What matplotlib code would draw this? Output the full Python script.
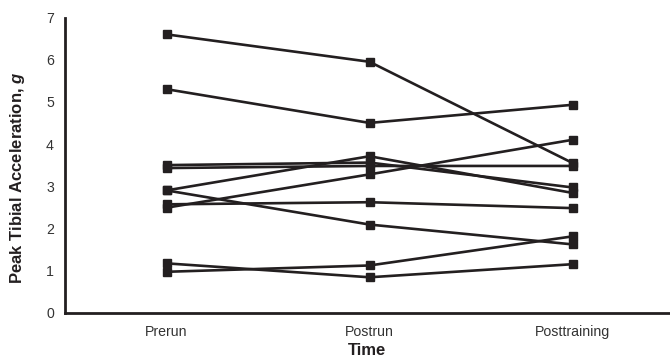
import matplotlib
matplotlib.use("Agg")
import matplotlib.pyplot as plt

plt.rcParams['font.family'] = ['Liberation Sans', 'DejaVu Sans']
plt.rcParams['mathtext.fontset'] = 'custom'
plt.rcParams['mathtext.it'] = 'Liberation Sans:bold:italic'
plt.rcParams['mathtext.rm'] = 'Liberation Sans:bold'

categories = ["Prerun", "Postrun", "Posttraining"]
subjects = [
    [6.60, 5.95, 3.55],
    [5.30, 4.50, 4.93],
    [3.50, 3.56, 2.97],
    [3.43, 3.48, 3.48],
    [2.90, 3.71, 2.84],
    [2.90, 2.09, 1.62],
    [2.57, 2.62, 2.48],
    [2.49, 3.28, 4.10],
    [1.17, 0.84, 1.15],
    [0.97, 1.12, 1.81],
]
yticks = [0, 1, 2, 3, 4, 5, 6, 7]

ink = '#231f20'
fig = plt.figure(figsize=(6.70, 3.58), dpi=100)
ax = fig.add_axes([65/670, 45.3/358, 605/670, (312.7-17.5)/358])

x = list(range(len(categories)))
for vals in subjects:
    ax.plot(x, vals, color=ink, lw=1.9, marker='s', ms=5.3,
            markerfacecolor=ink, markeredgecolor=ink, solid_joinstyle='miter')

ax.set_xlim(-0.5, 2.48)
ax.set_ylim(0, 7)
ax.set_xticks(x)
ax.set_xticklabels(categories)
ax.set_yticks(yticks)
ax.tick_params(axis='both', length=0, labelsize=10.2, colors='#333333')
ax.tick_params(axis='y', pad=8)
ax.tick_params(axis='x', pad=9)
for s in ['top', 'right']:
    ax.spines[s].set_visible(False)
for s in ['left', 'bottom']:
    ax.spines[s].set_color(ink)
    ax.spines[s].set_linewidth(2.0)
ax.spines['bottom'].set_zorder(0)

ax.set_xlabel('Time', fontsize=12, fontweight='bold', color=ink, labelpad=3)
ax.set_ylabel(r'Peak Tibial Acceleration, $g$', fontsize=12,
              fontweight='bold', color=ink, labelpad=10)
ax.yaxis.set_label_coords(-0.062, 0.456)

fig.savefig('out.png', dpi=100)
